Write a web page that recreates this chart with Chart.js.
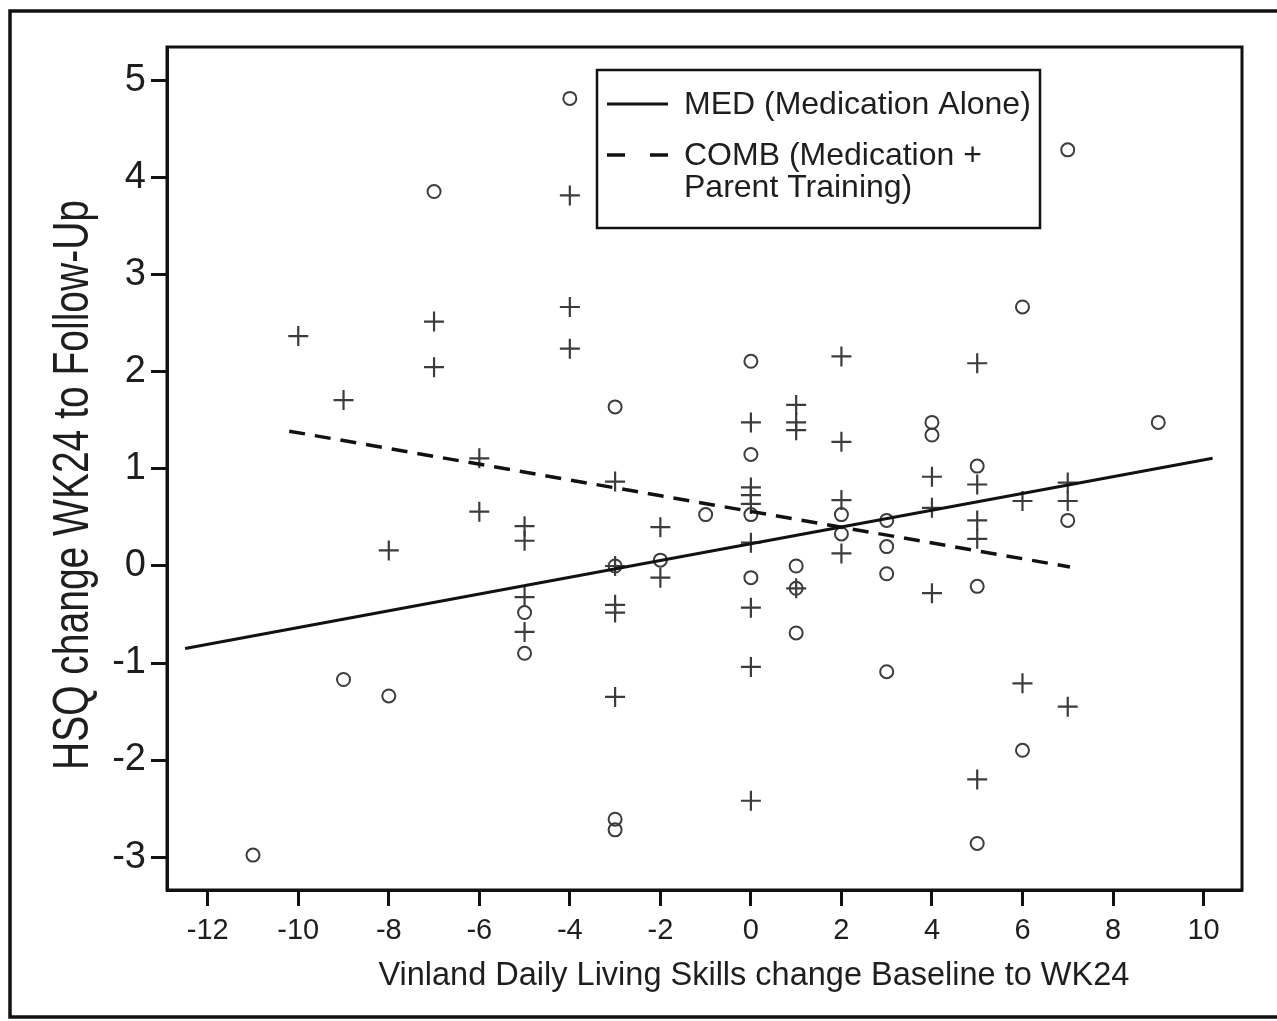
<!DOCTYPE html>
<html>
<head>
<meta charset="utf-8">
<script src="https://cdn.jsdelivr.net/npm/chart.js@4.4.1/dist/chart.umd.min.js"></script>
<style>
  html, body { margin: 0; padding: 0; background: #fff; }
  #wrap { position: relative; width: 1277px; height: 1021px; }
</style>
</head>
<body>
<div id="wrap"><canvas id="grafico"></canvas></div>
<script>
// MED (Medication Alone) -> circulos
const medX = [-11, -9, -8, -7, -5, -5, -4, -3, -3, -3, -3, -2, -1, 0, 0, 0, 0, 1, 1, 1, 2, 2, 3, 3, 3, 3, 4, 4, 5, 5, 5, 6, 6, 7, 7, 9];
const medY = [-2.98, -1.17, -1.34, 3.86, -0.48, -0.9, 4.82, 1.64, 0.0, -2.61, -2.72, 0.06, 0.53, 2.11, 1.15, 0.53, -0.12, 0.0, -0.23, -0.69, 0.53, 0.33, 0.47, 0.2, -0.08, -1.09, 1.48, 1.35, 1.03, -0.21, -2.86, 2.67, -1.9, 4.29, 0.47, 1.48];

// COMB (Medication + Parent Training) -> cruces
const combX = [-10, -9, -8, -7, -7, -6, -6, -5, -5, -5, -5, -4, -4, -4, -3, -3, -3, -3, -3, -2, -2, 0, 0, 0, 0, 0, 0, 0, 0, 1, 1, 1, 1, 2, 2, 2, 2, 4, 4, 4, 5, 5, 5, 5, 5, 6, 6, 7, 7, 7];
const combY = [2.37, 1.71, 0.16, 2.52, 2.05, 1.11, 0.56, 0.41, 0.26, -0.32, -0.68, 3.82, 2.67, 2.24, 0.87, 0.0, -0.4, -0.48, -1.35, 0.4, -0.12, 1.48, 0.81, 0.73, 0.64, 0.24, -0.43, -1.04, -2.42, 1.66, 1.48, 1.4, -0.23, 2.16, 1.28, 0.68, 0.13, 0.92, 0.6, -0.28, 2.09, 0.84, 0.47, 0.28, -2.2, 0.67, -1.21, 0.86, 0.67, -1.45];

// Rectas de ajuste (extremos)
const medFitX = [-12.5, 10.2];
const medFitY = [-0.85, 1.11];
const combFitX = [-10.2, 7.05];
const combFitY = [1.39, -0.01];

// Marcas de los ejes
const xTicks = [-12, -10, -8, -6, -4, -2, 0, 2, 4, 6, 8, 10];
const yTicks = [-3, -2, -1, 0, 1, 2, 3, 4, 5];

const medLabel = ['MED (Medication Alone)'];
const combLabel = ['COMB (Medication +', 'Parent Training)'];
const xTitle = 'Vinland Daily Living Skills change Baseline to WK24';
const yTitle = 'HSQ change WK24 to Follow-Up';

const fuente = '"Liberation Sans", Arial, sans-serif';
const tinta = '#1e1e1e';
const gris = '#3c3c3c';

let aPuntos = (xs, ys) => xs.map((x, i) => ({x: x, y: ys[i]}));

// Marco exterior, caja del grafico y titulos de los ejes
let marco = {
  id: 'marco',
  afterDraw(chart) {
    const ctx = chart.ctx;
    const a = chart.chartArea;
    ctx.save();
    ctx.strokeStyle = '#111';
    ctx.lineWidth = 3.5;
    ctx.strokeRect(10, 11, 1300, 1006);
    ctx.lineWidth = 3;
    ctx.strokeRect(a.left, a.top, a.right - a.left, a.bottom - a.top);

    ctx.fillStyle = tinta;
    ctx.textAlign = 'center';
    ctx.textBaseline = 'middle';

    // titulo eje x (centrado cerca de x = 0, como en el original)
    ctx.save();
    ctx.translate(chart.scales.x.getPixelForValue(0) + 3, 976);
    ctx.font = '32.5px ' + fuente;
    ctx.fillText(xTitle, 0, 0);
    ctx.restore();

    // titulo eje y
    ctx.save();
    ctx.translate(74, 485);
    ctx.rotate(-Math.PI / 2);
    ctx.scale(1, 1.3);
    ctx.font = '39px ' + fuente;
    ctx.fillText(yTitle, 0, 0);
    ctx.restore();
    ctx.restore();
  }
};

// Leyenda con recuadro, muestra de linea y texto en dos renglones
let leyenda = {
  id: 'leyenda',
  afterDraw(chart) {
    const ctx = chart.ctx;
    const a = chart.chartArea;
    const x0 = a.left + 430, y0 = a.top + 23;
    ctx.save();
    ctx.fillStyle = '#fff';
    ctx.fillRect(x0, y0, 443, 158);
    ctx.strokeStyle = '#111';
    ctx.lineWidth = 2.5;
    ctx.strokeRect(x0, y0, 443, 158);

    ctx.lineWidth = 3;
    ctx.beginPath();
    ctx.moveTo(x0 + 10, y0 + 34);
    ctx.lineTo(x0 + 71, y0 + 34);
    ctx.stroke();

    ctx.lineWidth = 3.5;
    ctx.setLineDash([18, 25]);
    ctx.beginPath();
    ctx.moveTo(x0 + 10, y0 + 85);
    ctx.lineTo(x0 + 71, y0 + 85);
    ctx.stroke();
    ctx.setLineDash([]);

    ctx.fillStyle = tinta;
    ctx.font = '32px ' + fuente;
    ctx.textAlign = 'left';
    ctx.textBaseline = 'middle';
    medLabel.forEach((t, i) => ctx.fillText(t, x0 + 87, y0 + 35 + i * 32));
    combLabel.forEach((t, i) => ctx.fillText(t, x0 + 87, y0 + 86 + i * 32));
    ctx.restore();
  }
};

let config = {
  type: 'scatter',
  data: {
    datasets: [
      {
        label: 'MED fit',
        data: aPuntos(medFitX, medFitY),
        showLine: true,
        borderColor: '#111',
        borderWidth: 3,
        pointRadius: 0,
        order: 1
      },
      {
        label: 'COMB fit',
        data: aPuntos(combFitX, combFitY),
        showLine: true,
        borderColor: '#111',
        borderWidth: 3.5,
        borderDash: [16, 10],
        pointRadius: 0,
        order: 2
      },
      {
        label: 'MED (Medication Alone)',
        data: aPuntos(medX, medY),
        pointStyle: 'circle',
        pointRadius: 6.5,
        pointBorderWidth: 2,
        pointBorderColor: gris,
        pointBackgroundColor: 'rgba(0,0,0,0)',
        order: 3
      },
      {
        label: 'COMB (Medication + Parent Training)',
        data: aPuntos(combX, combY),
        pointStyle: 'cross',
        pointRadius: 10,
        pointBorderWidth: 2.2,
        pointBorderColor: gris,
        order: 4
      }
    ]
  },
  options: {
    responsive: true,
    maintainAspectRatio: false,
    devicePixelRatio: 1,
    animation: false,
    layout: { padding: { left: 0, top: 47, right: 35, bottom: 0 } },
    plugins: {
      legend: { display: false },
      tooltip: { enabled: false }
    },
    scales: {
      x: {
        type: 'linear',
        min: -12.9,
        max: 10.85,
        afterBuildTicks: s => { s.ticks = xTicks.map(v => ({value: v})); },
        afterFit: s => { s.height = 131; },
        grid: { drawOnChartArea: false, drawTicks: true, tickLength: 16, tickColor: '#111', tickWidth: 3 },
        border: { display: true, color: '#111', width: 3 },
        ticks: { font: { family: fuente, size: 29 }, color: tinta, padding: 8, maxRotation: 0, autoSkip: false }
      },
      y: {
        type: 'linear',
        min: -3.34,
        max: 5.35,
        afterBuildTicks: s => { s.ticks = yTicks.map(v => ({value: v})); },
        afterFit: s => { s.width = 167; },
        grid: { drawOnChartArea: false, drawTicks: true, tickLength: 16, tickColor: '#111', tickWidth: 3 },
        border: { display: true, color: '#111', width: 3 },
        ticks: { font: { family: fuente, size: 38 }, color: tinta, padding: 5, autoSkip: false }
      }
    }
  },
  plugins: [marco, leyenda]
};

new Chart(document.getElementById('grafico'), config);
</script>
</body>
</html>
